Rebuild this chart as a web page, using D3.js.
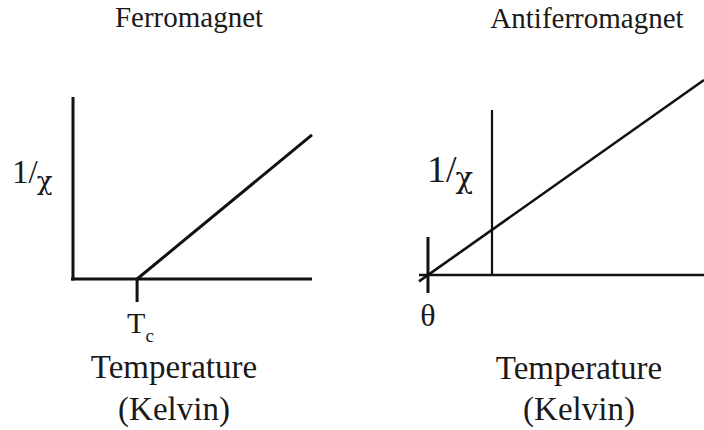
<!DOCTYPE html>
<html>
<head>
<meta charset="utf-8">
<script src="https://cdn.jsdelivr.net/npm/d3@7"></script>
<style>
  html, body { margin: 0; padding: 0; background: #fff; }
  text { font-family: "Liberation Serif", "Times New Roman", serif; fill: #1a1a1a; }
  .chi { font-family: "DejaVu Serif", serif; }
</style>
</head>
<body>
<svg id="viz"></svg>
<script>
const width = 704, height = 430;

// panel titles and axis labels
const panelTitles = ["Ferromagnet", "Antiferromagnet"];
const xLabel = ["Temperature", "(Kelvin)"];

// ferromagnet: 1/chi is zero up to Tc, then rises linearly
const ferroTc = 1;
const ferroTRange = [0, 3.73];
const ferroYMax = 2.84;
const ferroLine = [{t: 1, y: 0}, {t: 3.73, y: 2.25}];

// antiferromagnet: 1/chi extrapolates to zero at theta (negative)
const antiTheta = -1;
const antiTRange = [-1.14, 3.31];
const antiYMax = 2.58;
const antiLine = [{t: -1.14, y: -0.1}, {t: 3.31, y: 3.05}];

const svg = d3.select("#viz")
  .attr("width", width)
  .attr("height", height);

const ink = "#111";

// ---------- left panel: ferromagnet ----------
const fx = d3.scaleLinear().domain(ferroTRange).range([73, 312]);
const fy = d3.scaleLinear().domain([0, ferroYMax]).range([279, 97]);
const left = svg.append("g");

left.append("text")
  .attr("x", 189).attr("y", 27)
  .attr("text-anchor", "middle")
  .style("font-size", "29px")
  .text(panelTitles[0]);

// axes
left.append("line")
  .attr("x1", fx(0)).attr("x2", fx(0))
  .attr("y1", fy(ferroYMax)).attr("y2", fy(0) + 1.5)
  .attr("stroke", ink).attr("stroke-width", 3);
left.append("line")
  .attr("x1", fx(0) - 2).attr("x2", fx(ferroTRange[1]))
  .attr("y1", fy(0)).attr("y2", fy(0))
  .attr("stroke", ink).attr("stroke-width", 3);
// Tc tick
left.append("line")
  .attr("x1", fx(ferroTc)).attr("x2", fx(ferroTc))
  .attr("y1", fy(0)).attr("y2", fy(0) + 23)
  .attr("stroke", ink).attr("stroke-width", 3);

left.append("path")
  .datum(ferroLine)
  .attr("d", d3.line().x(d => fx(d.t)).y(d => fy(d.y)))
  .attr("fill", "none")
  .attr("stroke", ink).attr("stroke-width", 3);

// 1/chi label
const fl = left.append("text")
  .attr("x", 12).attr("y", 183)
  .style("font-size", "33px");
fl.append("tspan").text("1/");
fl.append("tspan").attr("class", "chi").attr("dy", 7).attr("dx", -1)
  .style("font-size", "26px").text("χ");

// Tc label
const tc = left.append("text")
  .attr("x", fx(ferroTc) - 10).attr("y", 333)
  .style("font-size", "30px");
tc.append("tspan").text("T");
tc.append("tspan").attr("dy", 9).style("font-size", "19px").text("c");

left.selectAll(".xlab")
  .data(xLabel)
  .enter().append("text")
  .attr("class", "xlab")
  .attr("x", 174)
  .attr("y", (d, i) => 378 + i * 42)
  .attr("text-anchor", "middle")
  .style("font-size", "33px")
  .text(d => d);

// ---------- right panel: antiferromagnet ----------
const ax = d3.scaleLinear().domain(antiTRange).range([419, 704]);
const ay = d3.scaleLinear().domain([0, antiYMax]).range([275, 110]);
const right = svg.append("g");

right.append("text")
  .attr("x", 587).attr("y", 28)
  .attr("text-anchor", "middle")
  .style("font-size", "29px")
  .text(panelTitles[1]);

right.append("line")
  .attr("x1", ax(0)).attr("x2", ax(0))
  .attr("y1", ay(antiYMax)).attr("y2", ay(0))
  .attr("stroke", ink).attr("stroke-width", 2.2);
right.append("line")
  .attr("x1", ax(antiTRange[0])).attr("x2", ax(antiTRange[1]))
  .attr("y1", ay(0)).attr("y2", ay(0))
  .attr("stroke", ink).attr("stroke-width", 2.5);
// theta tick
right.append("line")
  .attr("x1", ax(antiTheta)).attr("x2", ax(antiTheta))
  .attr("y1", ay(0) - 38).attr("y2", ay(0) + 18)
  .attr("stroke", ink).attr("stroke-width", 3);

right.append("path")
  .datum(antiLine)
  .attr("d", d3.line().x(d => ax(d.t)).y(d => ay(d.y)))
  .attr("fill", "none")
  .attr("stroke", ink).attr("stroke-width", 2.6);

const al = right.append("text")
  .attr("x", 427).attr("y", 182)
  .style("font-size", "38px");
al.append("tspan").text("1/");
al.append("tspan").attr("class", "chi").attr("dy", 6).attr("dx", -1)
  .style("font-size", "29px").text("χ");

right.append("text")
  .attr("x", ax(antiTheta)).attr("y", 326)
  .attr("text-anchor", "middle")
  .style("font-size", "32px")
  .text("θ");

right.selectAll(".xlab")
  .data(xLabel)
  .enter().append("text")
  .attr("class", "xlab")
  .attr("x", 579)
  .attr("y", (d, i) => 379 + i * 41)
  .attr("text-anchor", "middle")
  .style("font-size", "33px")
  .text(d => d);
</script>
</body>
</html>
